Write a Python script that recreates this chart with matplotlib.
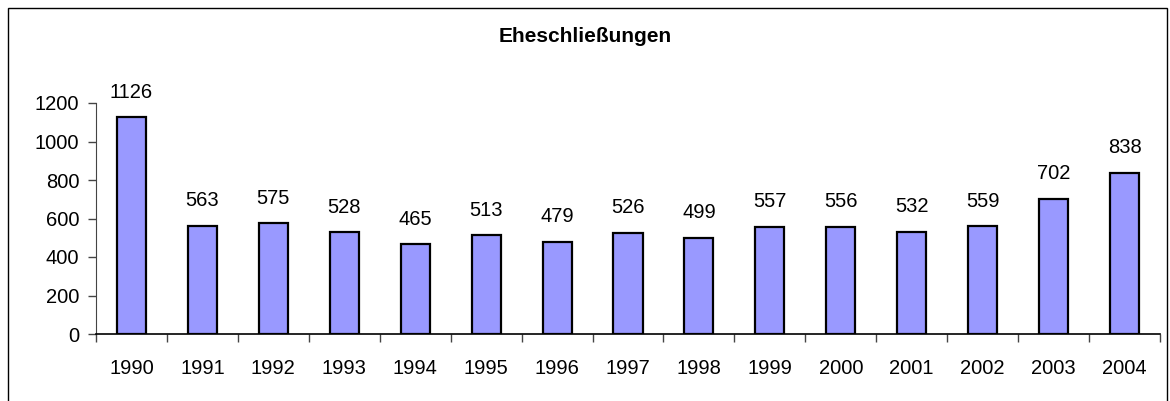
import matplotlib.pyplot as plt
from matplotlib.patches import Rectangle

plt.rcParams['font.family'] = ['Liberation Sans', 'DejaVu Sans']

years = ['1990', '1991', '1992', '1993', '1994', '1995', '1996', '1997',
         '1998', '1999', '2000', '2001', '2002', '2003', '2004']
marriages = [1126, 563, 575, 528, 465, 513, 479, 526, 499, 557, 556, 532, 559, 702, 838]

fig = plt.figure(figsize=(11.7, 4.01), dpi=100)
ax = fig.add_axes([96 / 1170, 67 / 401, 1064 / 1170, 231 / 401])

# outer chart border
fig.patches.append(Rectangle((8 / 1170, -0.05), 1159 / 1170, 1.03 - 8 / 401 + 0.02,
                             transform=fig.transFigure, fill=False,
                             edgecolor='black', linewidth=1))

x = range(len(years))
ax.bar(x, marriages, width=0.41, color='#9999ff', edgecolor='black', linewidth=1.6)

# value labels above bars
for xi, v in zip(x, marriages):
    ax.annotate(str(v), (xi, v), xytext=(0, 18), textcoords='offset points',
                ha='center', va='center', fontsize=14.5)

ax.set_xlim(-0.5, len(years) - 0.5)
ax.set_ylim(0, 1200)
ax.set_yticks(range(0, 1201, 200))
ax.set_xticks(x)
ax.set_xticklabels(years)
ax.set_xticks([i - 0.5 for i in range(len(years) + 1)], minor=True)
ax.tick_params(axis='x', which='major', length=0, pad=18, labelsize=14.5)
ax.tick_params(axis='x', which='minor', length=6, width=1, color='#444444')
ax.tick_params(axis='y', length=6, width=1, color='#444444', labelsize=14.5, pad=6)

for side in ['top', 'right']:
    ax.spines[side].set_visible(False)
ax.spines['left'].set_color('#444444')
ax.spines['bottom'].set_color('black')
ax.spines['bottom'].set_linewidth(1.2)

fig.text(0.5, 1 - 37 / 401, 'Eheschließungen', ha='center', va='center',
         fontsize=15, fontweight='bold')

fig.savefig('out.png', dpi=100)
